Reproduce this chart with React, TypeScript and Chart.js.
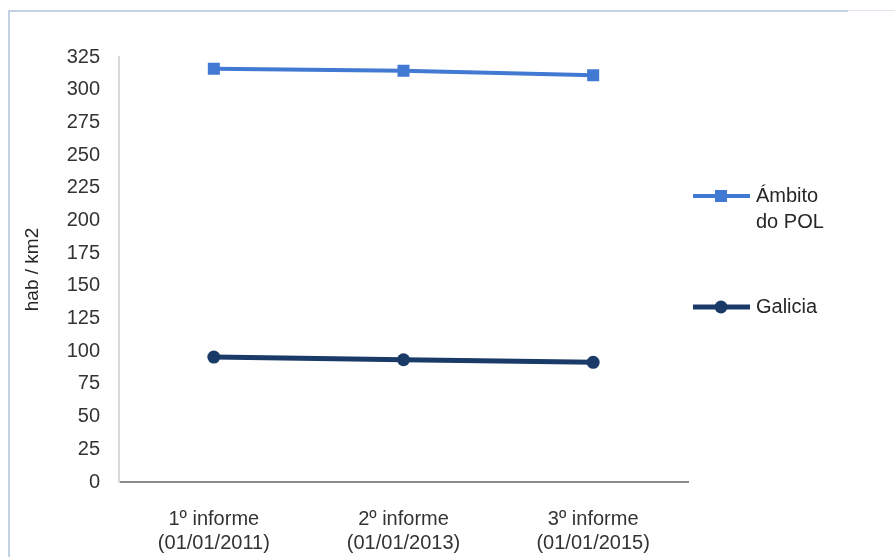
import React, { useEffect, useRef } from "react";
import { Chart, registerables } from "chart.js";

Chart.register(...registerables);

const categories: string[][] = [
  ["1º informe", "(01/01/2011)"],
  ["2º informe", "(01/01/2013)"],
  ["3º informe", "(01/01/2015)"],
];
const ambitoValues: number[] = [316, 314.5, 311];
const galiciaValues: number[] = [95.5, 93.5, 91.5];
const seriesNames: string[][] = [["Ámbito", "do POL"], ["Galicia"]];
const yTicksMax = 325;
const yTicksStep = 25;
const yAxisTitle = "hab / km2";

const FONT = "'Liberation Sans', Arial, sans-serif";
const AMBITO_COLOR = "#4279d2";
const GALICIA_COLOR = "#1a3a67";

const legendPlugin = {
  id: "customLegend",
  afterDraw(chart: any) {
    const ctx = chart.ctx;
    const ds = chart.data.datasets;
    const x0 = chart.chartArea.right + 5;
    const rows = [196, 307];
    ds.forEach((d: any, i: number) => {
      const y = rows[i];
      ctx.save();
      ctx.strokeStyle = d.borderColor;
      ctx.lineWidth = d.borderWidth;
      ctx.beginPath();
      ctx.moveTo(x0, y);
      ctx.lineTo(x0 + 57, y);
      ctx.stroke();
      ctx.fillStyle = d.pointBackgroundColor;
      ctx.beginPath();
      if (d.pointStyle === "rect") {
        const s = d.pointRadius * Math.SQRT1_2;
        ctx.rect(x0 + 28 - s, y - s, 2 * s, 2 * s);
      } else {
        ctx.arc(x0 + 28, y, d.pointRadius, 0, Math.PI * 2);
      }
      ctx.fill();
      ctx.fillStyle = "#262626";
      ctx.font = `20px ${FONT}`;
      ctx.textBaseline = "middle";
      ctx.textAlign = "left";
      const lines = seriesNames[i];
      lines.forEach((t, k) => ctx.fillText(t, x0 + 63, y + k * 26));
      ctx.restore();
    });
  },
};

export default function App() {
  const ref = useRef<HTMLCanvasElement | null>(null);
  useEffect(() => {
    if (!ref.current) return;
    const chart = new Chart(ref.current, {
      type: "line",
      data: {
        labels: categories,
        datasets: [
          {
            label: "Ámbito do POL",
            data: ambitoValues,
            borderColor: AMBITO_COLOR,
            backgroundColor: AMBITO_COLOR,
            pointBackgroundColor: AMBITO_COLOR,
            pointBorderColor: AMBITO_COLOR,
            borderWidth: 4,
            pointStyle: "rect",
            pointRadius: 8.5,
            pointBorderWidth: 0,
            tension: 0,
          },
          {
            label: "Galicia",
            data: galiciaValues,
            borderColor: GALICIA_COLOR,
            backgroundColor: GALICIA_COLOR,
            pointBackgroundColor: GALICIA_COLOR,
            pointBorderColor: GALICIA_COLOR,
            borderWidth: 5,
            pointStyle: "circle",
            pointRadius: 6.5,
            pointBorderWidth: 0,
            tension: 0,
          },
        ],
      },
      options: {
        animation: false,
        responsive: false,
        maintainAspectRatio: false,
        layout: { padding: { left: 0, top: 57, right: 207, bottom: 0 } },
        plugins: {
          legend: { display: false },
          tooltip: { enabled: false },
        },
        scales: {
          x: {
            type: "category",
            offset: true,
            grid: { display: false, drawTicks: false },
            border: { display: true, color: "#8c8c8c", width: 2 },
            ticks: {
              color: "#333333",
              font: { family: FONT, size: 20, lineHeight: 1.2 },
              padding: 25,
              maxRotation: 0,
              autoSkip: false,
            },
            afterFit: (scale: any) => {
              scale.height = 75;
            },
          },
          y: {
            min: 0,
            max: yTicksMax,
            grid: { display: false, drawTicks: false },
            border: { display: true, color: "#d9d9d9", width: 2 },
            ticks: {
              stepSize: yTicksStep,
              color: "#333333",
              font: { family: FONT, size: 20 },
              padding: 19,
            },
            title: {
              display: true,
              text: yAxisTitle,
              color: "#262626",
              font: { family: FONT, size: 19 },
              padding: { top: 21, bottom: 0 },
            },
            afterFit: (scale: any) => {
              scale.width = 119;
            },
          },
        },
      },
      plugins: [legendPlugin],
    });
    return () => chart.destroy();
  }, []);

  return (
    <div style={{ position: "fixed", left: 0, top: 0, width: 895, height: 557, background: "#fff" }}>
      <div
        style={{
          position: "absolute",
          left: 8,
          top: 10,
          width: 840,
          height: 547,
          borderTop: "2px solid #c3d1e2",
          borderLeft: "2px solid #c3d1e2",
          boxSizing: "border-box",
        }}
      />
      <div
        style={{
          position: "absolute",
          left: 848,
          top: 10,
          width: 47,
          height: 1,
          background: "#dde5ef",
        }}
      />
      <canvas
        ref={ref}
        width={895}
        height={557}
        style={{ position: "absolute", left: 0, top: 0, width: 895, height: 557 }}
      />
    </div>
  );
}
